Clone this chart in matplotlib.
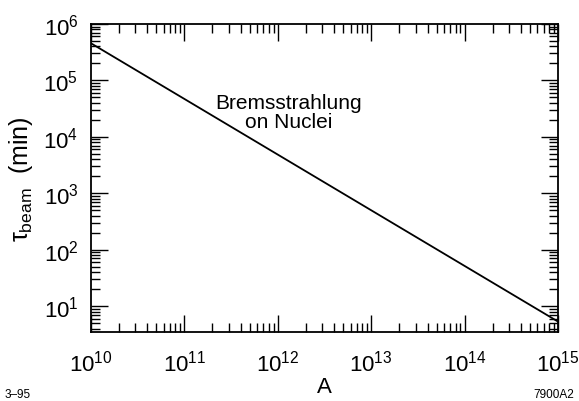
import numpy as np
import matplotlib
matplotlib.use("Agg")
import matplotlib.pyplot as plt
from matplotlib.ticker import LogLocator

plt.rcParams['font.family'] = ['Liberation Sans', 'DejaVu Sans']
plt.rcParams['mathtext.fontset'] = 'custom'
plt.rcParams['mathtext.rm'] = 'Liberation Sans'
plt.rcParams['mathtext.it'] = 'Liberation Sans'
plt.rcParams['mathtext.bf'] = 'Liberation Sans'

# beam lifetime from bremsstrahlung on nuclei
A_vals = [1e10, 1e15]
tau_vals = [4.55e5, 5.3]

fig = plt.figure(figsize=(5.79, 4.02), dpi=100)
ax = fig.add_axes([0.157, 0.172, 0.807, 0.766])

ax.plot(A_vals, tau_vals, color='black', lw=1.3)

ax.set_xscale('log')
ax.set_yscale('log')
ax.set_xlim(1e10, 1e15)
ax.set_ylim(3.5, 1e6)

ax.xaxis.set_major_locator(LogLocator(base=10, numticks=10))
ax.xaxis.set_minor_locator(LogLocator(base=10, subs=np.arange(2, 10), numticks=20))
ax.yaxis.set_major_locator(LogLocator(base=10, numticks=10))
ax.yaxis.set_minor_locator(LogLocator(base=10, subs=np.arange(2, 10), numticks=20))

ax.tick_params(which='both', direction='in', top=True, right=True, width=1.0)
ax.tick_params(which='major', length=12, labelsize=16)
ax.tick_params(which='minor', length=6.5)
ax.tick_params(axis='x', which='major', pad=13)
ax.tick_params(axis='y', which='major', pad=9)
for s in ax.spines.values():
    s.set_linewidth(1.3)

ax.set_xlabel('A', fontsize=16, labelpad=0)
ax.set_ylabel(r'$\tau_{\rm beam}$  (min)', fontsize=18, labelpad=6)

ax.text(1.3e12, 2.7e4, 'Bremsstrahlung\non Nuclei', fontsize=15, ha='center',
        va='center', linespacing=1.0)

fig.text(0.008, 0.003, '3\u201395', fontsize=8.5, ha='left', va='bottom')
fig.text(0.992, 0.003, '7900A2', fontsize=8.5, ha='right', va='bottom')

fig.savefig('out.png', dpi=100)
